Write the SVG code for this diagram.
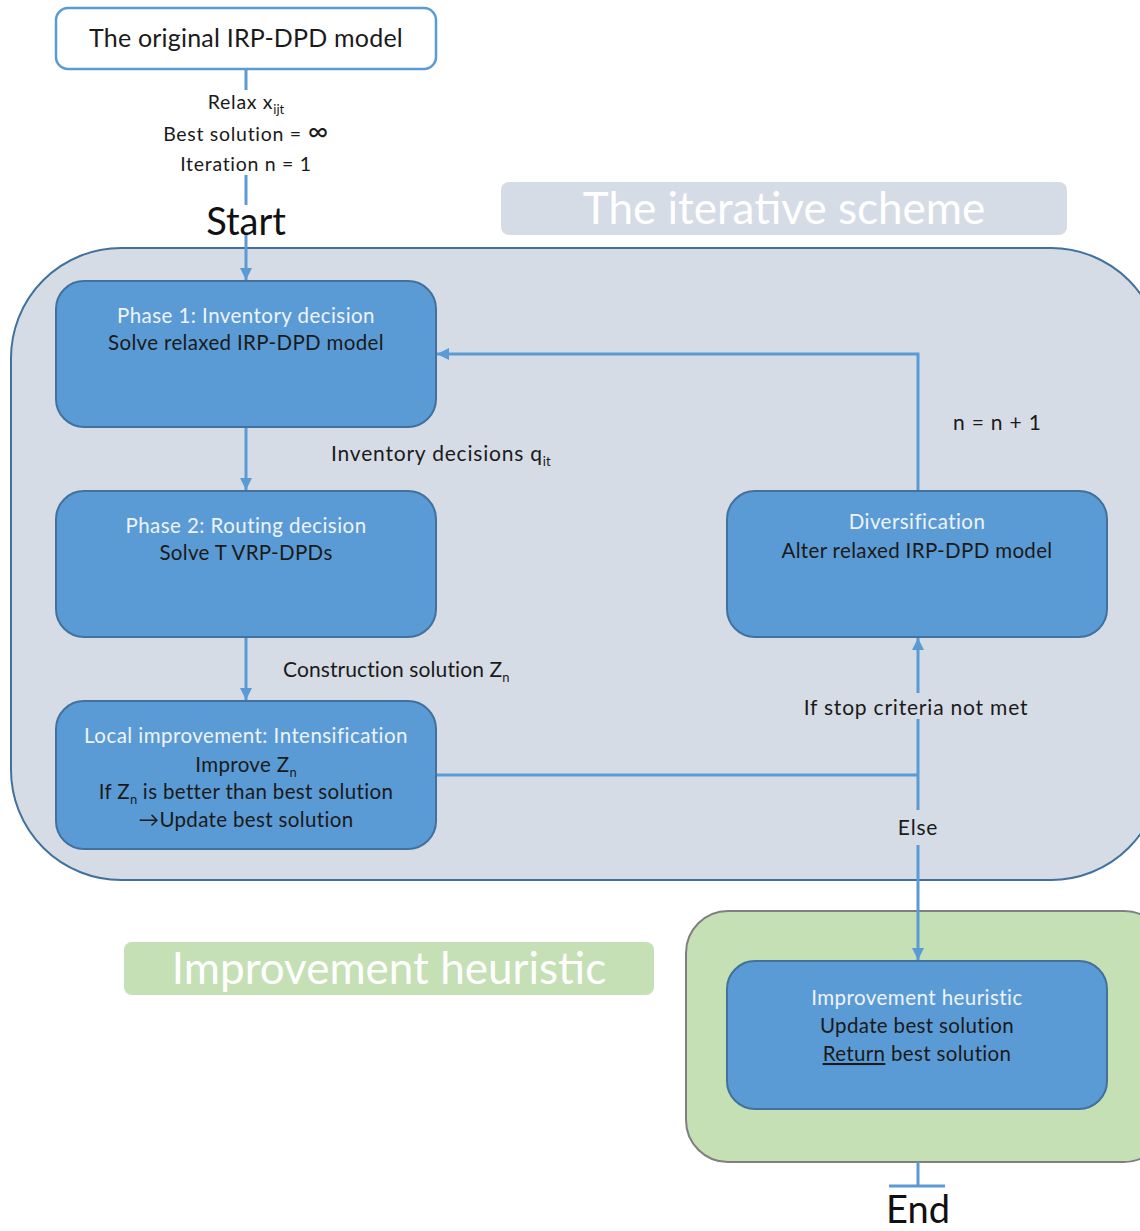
<svg xmlns="http://www.w3.org/2000/svg" width="1140" height="1231" viewBox="0 0 1140 1231">
  <style>
    text { font-family: Lato, "Open Sans", "Liberation Sans", sans-serif; fill: #1a1a1a; }
    .node { fill: #5b9bd5; stroke: #41719c; stroke-width: 2; }
    .ttl { fill: #eef3fa; font-size: 20.5px; letter-spacing: 0.45px; text-anchor: middle; }
    .body { font-size: 20.5px; letter-spacing: 0.35px; text-anchor: middle; }
    .lbl { font-size: 21px; letter-spacing: 0.8px; }
    .sm { font-size: 19.5px; letter-spacing: 0.7px; text-anchor: middle; }
    .big { font-size: 38px; text-anchor: middle; fill: #111; }
    .banner { fill: #ffffff; font-size: 44px; text-anchor: middle; }
    .conn { fill: none; stroke: #5b9bd5; stroke-width: 3; }
    .sub { font-size: 13px; letter-spacing: 0; }
  </style>
  <defs>
    <marker id="arrow" markerUnits="userSpaceOnUse" markerWidth="14" markerHeight="14" refX="12" refY="7" orient="auto">
      <path d="M0,1 L12,7 L0,13 Z" fill="#5b9bd5"/>
    </marker>
  </defs>

  <!-- Containers -->
  <g id="iterative-scheme">
    <rect x="11" y="248" width="1150" height="632" rx="110" ry="110" fill="#d6dce5" stroke="#41719c" stroke-width="2"/>
    <rect x="501" y="182" width="566" height="53" rx="8" fill="#d6dce5"/>
    <text class="banner" x="784" y="224">The iterative scheme</text>
  </g>
  <g id="improvement-area">
    <rect x="686" y="911" width="480" height="251" rx="42" ry="42" fill="#c5e0b4" stroke="#7f7f7f" stroke-width="2"/>
    <rect x="124" y="942" width="530" height="53" rx="8" fill="#c5e0b4"/>
    <text class="banner" x="389" y="984">Improvement heuristic</text>
  </g>

  <!-- Connectors -->
  <g id="connectors">
    <line class="conn" x1="246" y1="69" x2="246" y2="90"/>
    <line class="conn" x1="246" y1="175" x2="246" y2="205"/>
    <line class="conn" x1="246" y1="235" x2="246" y2="280" marker-end="url(#arrow)"/>
    <line class="conn" x1="246" y1="427" x2="246" y2="490" marker-end="url(#arrow)"/>
    <line class="conn" x1="246" y1="637" x2="246" y2="700" marker-end="url(#arrow)"/>
    <polyline class="conn" points="436,775 918,775"/>
    <line class="conn" x1="918" y1="775" x2="918" y2="719"/>
    <line class="conn" x1="918" y1="693" x2="918" y2="638" marker-end="url(#arrow)"/>
    <line class="conn" x1="918" y1="775" x2="918" y2="810"/>
    <line class="conn" x1="918" y1="845" x2="918" y2="960" marker-end="url(#arrow)"/>
    <polyline class="conn" points="918,491 918,354 437,354" marker-end="url(#arrow)"/>
    <line class="conn" x1="918" y1="1162" x2="918" y2="1186"/>
    <line class="conn" x1="889" y1="1186" x2="945" y2="1186"/>
  </g>

  <!-- Connector labels -->
  <g id="labels">
    <text class="sm" x="246" y="109">Relax x<tspan class="sub" dy="5">ijt</tspan></text>
    <text class="sm" x="246" y="141">Best solution = <tspan style="font-size:28px">∞</tspan></text>
    <text class="sm" x="246" y="171">Iteration n = 1</text>
    <text class="big" x="246" y="235">Start</text>
    <text class="lbl" x="331" y="461">Inventory decisions q<tspan class="sub" dy="5">it</tspan></text>
    <text class="lbl" x="283" y="677" style="letter-spacing:0.1px">Construction solution Z<tspan class="sub" dy="5">n</tspan></text>
    <text class="lbl" x="953" y="430">n = n + 1</text>
    <text class="lbl" x="916" y="715" text-anchor="middle">If stop criteria not met</text>
    <text class="lbl" x="918" y="835" text-anchor="middle">Else</text>
    <text class="big" x="918" y="1223">End</text>
  </g>

  <!-- Nodes -->
  <g id="original-model">
    <rect x="56" y="8" width="380" height="61" rx="12" fill="#ffffff" stroke="#5b9bd5" stroke-width="2.5"/>
    <text x="246" y="47" text-anchor="middle" style="font-size:25px;letter-spacing:0.2px">The original IRP-DPD model</text>
  </g>
  <g id="phase1">
    <rect class="node" x="56" y="281" width="380" height="146" rx="28"/>
    <text class="ttl" x="246" y="323">Phase 1: Inventory decision</text>
    <text class="body" x="246" y="350">Solve relaxed IRP-DPD model</text>
  </g>
  <g id="phase2">
    <rect class="node" x="56" y="491" width="380" height="146" rx="28"/>
    <text class="ttl" x="246" y="533">Phase 2: Routing decision</text>
    <text class="body" x="246" y="560">Solve T VRP-DPDs</text>
  </g>
  <g id="local-improvement">
    <rect class="node" x="56" y="701" width="380" height="148" rx="28"/>
    <text class="ttl" x="246" y="743">Local improvement: Intensification</text>
    <text class="body" x="246" y="772">Improve Z<tspan class="sub" dy="5">n</tspan></text>
    <text class="body" x="246" y="799">If Z<tspan class="sub" dy="5">n</tspan><tspan dy="-5"> is better than best solution</tspan></text>
    <text class="body" x="246" y="827">→Update best solution</text>
  </g>
  <g id="diversification">
    <rect class="node" x="727" y="491" width="380" height="146" rx="28"/>
    <text class="ttl" x="917" y="529">Diversification</text>
    <text class="body" x="917" y="558">Alter relaxed IRP-DPD model</text>
  </g>
  <g id="improvement-heuristic">
    <rect class="node" x="727" y="961" width="380" height="148" rx="28"/>
    <text class="ttl" x="917" y="1005">Improvement heuristic</text>
    <text class="body" x="917" y="1033">Update best solution</text>
    <text class="body" x="917" y="1061"><tspan text-decoration="underline">Return</tspan> best solution</text>
  </g>
</svg>
